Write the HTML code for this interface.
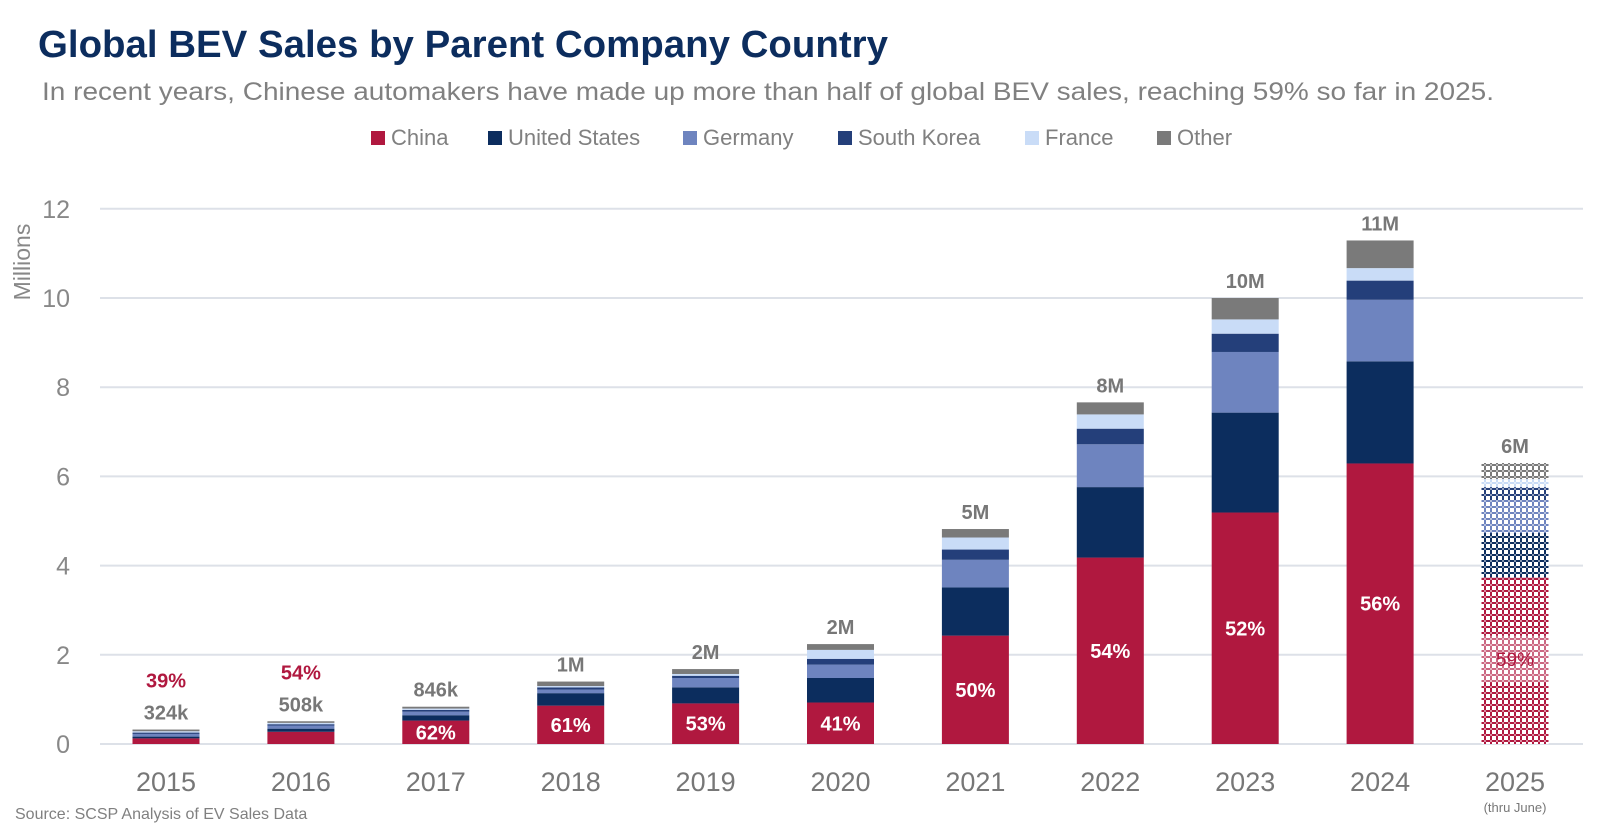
<!DOCTYPE html>
<html><head><meta charset="utf-8"><style>
body{margin:0;background:#fff;font-family:"Liberation Sans",sans-serif;}
svg text{font-family:"Liberation Sans",sans-serif;}
</style></head><body>
<svg id="chart" width="1600" height="826" viewBox="0 0 1600 826" xmlns="http://www.w3.org/2000/svg">
<defs>
<pattern id="hatch" width="6" height="6" patternUnits="userSpaceOnUse">
<rect x="0" y="0" width="2" height="2" fill="#fff"/>
<rect x="4" y="0" width="2" height="2" fill="#fff"/>
<rect x="0" y="4" width="2" height="2" fill="#fff"/>
<rect x="4" y="4" width="2" height="2" fill="#fff"/>
<rect x="2" y="2" width="2" height="2" fill="#fff" opacity="0.5"/>
</pattern>
</defs>
<text x="38" y="57" font-size="38" font-weight="bold" fill="#0c2d5e" textLength="850" lengthAdjust="spacingAndGlyphs">Global BEV Sales by Parent Company Country</text>
<text x="42" y="100" font-size="25" fill="#808080" textLength="1452" lengthAdjust="spacingAndGlyphs">In recent years, Chinese automakers have made up more than half of global BEV sales, reaching 59% so far in 2025.</text>
<g id="legend"></g>
<text transform="translate(30,262) rotate(-90)" text-anchor="middle" font-size="23" fill="#888">Millions</text>
<g id="grid"></g><g id="bars"></g><g id="labels"></g>
<text x="15" y="819" font-size="16" fill="#808080">Source: SCSP Analysis of EV Sales Data</text>
</svg>
<script>
const years=["2015","2016","2017","2018","2019","2020","2021","2022","2023","2024","2025"];
const series=["China","United States","Germany","South Korea","France","Other"];
const colors=["#b0183f","#0c2d5e","#6e84bf","#243f7a","#c9dcf7","#7a7a7a"];
const china=[0.126,0.274,0.525,0.86,0.91,0.93,2.43,4.18,5.19,6.29,3.74];
const us=[0.04,0.07,0.12,0.28,0.36,0.55,1.08,1.58,2.24,2.29,0.99];
const germany=[0.06,0.07,0.08,0.08,0.21,0.30,0.62,0.96,1.36,1.38,0.74];
const southKorea=[0.03,0.03,0.04,0.05,0.05,0.13,0.23,0.35,0.41,0.43,0.29];
const france=[0.03,0.03,0.03,0.03,0.04,0.20,0.27,0.32,0.32,0.28,0.18];
const other=[0.038,0.036,0.041,0.10,0.11,0.13,0.19,0.27,0.48,0.62,0.36];
const totalLabels=["324k","508k","846k","1M","2M","2M","5M","8M","10M","11M","6M"];
const shareLabels=["39%","54%","62%","61%","53%","41%","50%","54%","52%","56%","59%"];
const yTicks=[0,2,4,6,8,10,12];
const NS="http://www.w3.org/2000/svg";
const y0=744,pxPer=44.6,x0=166,step=134.9,bw=67;
const Y=v=>y0-v*pxPer, X=i=>x0+i*step;
function mk(tag,attrs,parent,txt){const e=document.createElementNS(NS,tag);for(const k in attrs)e.setAttribute(k,attrs[k]);if(txt!=null)e.textContent=txt;parent.appendChild(e);return e;}
const grid=document.getElementById('grid'),bars=document.getElementById('bars'),labels=document.getElementById('labels'),legend=document.getElementById('legend');
yTicks.forEach(t=>{
 const l=mk('line',{x1:100,x2:1583,y1:Y(t),y2:Y(t),stroke:"#dde1e8","stroke-width":2},grid);
 
 
 const tx=mk('text',{x:70,y:Y(t)+9,"text-anchor":"end","font-size":25,fill:"#888"},grid,t);
 
 
});
const legX=[371,488,683,838,1025,1157];
series.forEach((s,i)=>{
 const r=mk('rect',{x:legX[i],y:131,width:14,height:14,fill:colors[i]},legend);
 
 
 const t=mk('text',{x:legX[i]+20,y:145,"font-size":22,fill:"#808080"},legend,s);
 
 
});
const data=[china,us,germany,southKorea,france,other];
years.forEach((yr,i)=>{
 let cum=0;const cx=X(i),last=i===years.length-1;
 data.forEach((arr,s)=>{
  const v=arr[i];
  const r=mk('rect',{x:cx-bw/2,y:Y(cum+v),width:bw,height:v*pxPer,fill:colors[s]},bars);
  
  
  if(last){
   const o=mk('rect',{x:cx-bw/2,y:Y(cum+v),width:bw,height:v*pxPer,fill:"url(#hatch)"},bars);
   
   
  }
  cum+=v;
 });
 const tot=cum;
 if(last){
  const h=mk('rect',{x:cx-bw/2,y:Y(china[i]*0.65),width:bw,height:china[i]*0.28*pxPer,fill:"#fff",opacity:0.35},bars);
  
  
 }
 const tl=mk('text',{x:cx,y:Y(tot)-10,"text-anchor":"middle","font-size":20,"font-weight":"bold",fill:"#777"},labels,totalLabels[i]);
 
 
 let sl;
 if(i<2){
  sl=mk('text',{x:cx,y:Y(tot)-42,"text-anchor":"middle","font-size":20,"font-weight":"bold",fill:"#b0183f"},labels,shareLabels[i]);
 }else if(last){
  sl=mk('text',{x:cx,y:Y(china[i]*0.51)+7,"text-anchor":"middle","font-size":19,fill:"#b0183f"},labels,shareLabels[i]);
 }else{
  sl=mk('text',{x:cx,y:Y(china[i]/2)+7,"text-anchor":"middle","font-size":20,"font-weight":"bold",fill:"#fff"},labels,shareLabels[i]);
 }
 
 
 const xl=mk('text',{x:cx,y:791,"text-anchor":"middle","font-size":27,fill:"#777"},labels,yr);
 
 
 if(last){
  const n=mk('text',{x:cx,y:812,"text-anchor":"middle","font-size":13,fill:"#777"},labels,"(thru June)");
  
  
 }
});
</script>
</body></html>
